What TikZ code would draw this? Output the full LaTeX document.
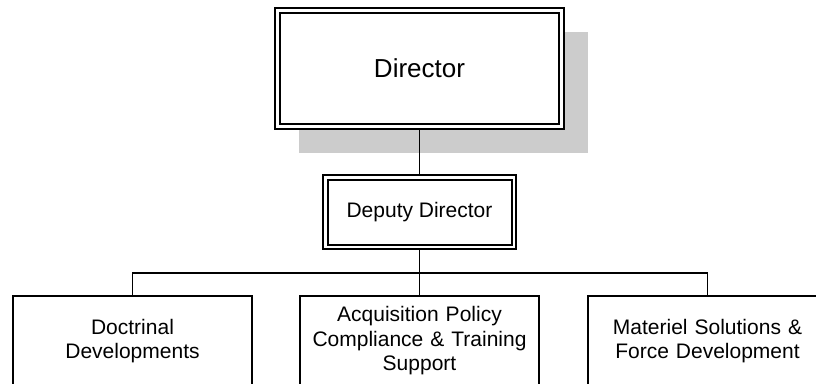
\documentclass[tikz,border=0pt]{standalone}
\usepackage{fontspec}
\setmainfont{Liberation Sans}
\begin{document}
\begin{tikzpicture}[x=1pt,y=1pt,
  conn/.style={line width=1.8pt},
  outerbox/.style={draw, line width=1.3pt, fill=white, inner sep=0pt, outer sep=0pt},
  innerbox/.style={draw, line width=2pt, fill=white, inner sep=0pt, outer sep=0pt, align=center},
  unitbox/.style={draw, line width=1.8pt, fill=white, minimum width=239pt, minimum height=90pt,
    inner sep=0pt, outer sep=0pt, text width=235pt, align=center,
    font=\fontsize{21}{24.5}\selectfont}]
\useasboundingbox (0,0) rectangle (816,-383);
\clip (0,0) rectangle (816,-383);
% shadow of the director box
\fill[black!20] (299,-32) rectangle (588,-153);
% director
\node[outerbox, minimum width=289pt, minimum height=121pt] (dirout) at (419.5,-68.5) {};
\node[innerbox, minimum width=279pt, minimum height=111pt, font=\fontsize{26}{31}\selectfont] (dir) at (dirout.center) {Director};
% deputy
\node[outerbox, minimum width=193pt, minimum height=74pt] (depout) at (419.5,-212) {};
\node[innerbox, minimum width=184pt, minimum height=65pt, font=\fontsize{21}{25}\selectfont] (dep) at (depout.center) {Deputy Director};
% units
\node[unitbox] (u1) at (132.5,-341) {Doctrinal\\Developments};
\node[unitbox] (u2) at (419.5,-341) {Acquisition Policy\\Compliance \& Training\\Support};
\node[unitbox] (u3) at (707.5,-341) {Materiel Solutions \&\\Force Development};
% connectors
\draw[conn] (dirout.south) -- (depout.north);
\draw[conn] (depout.south) -- (u2.north);
\draw[conn] (u1.north) -- ++(0,23) -| (u3.north);
\end{tikzpicture}
\end{document}
